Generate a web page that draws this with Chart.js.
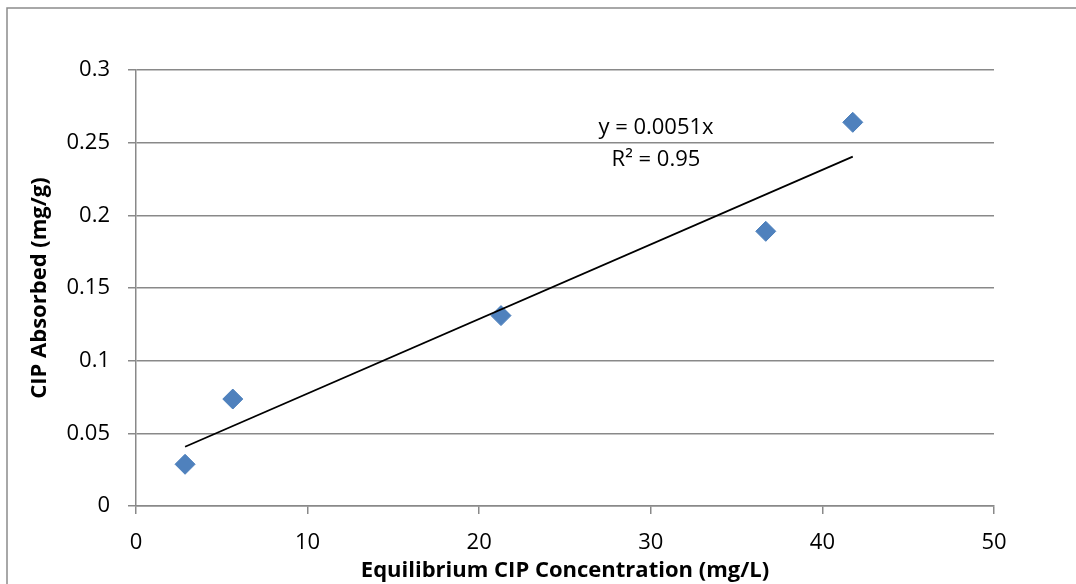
<!DOCTYPE html>
<html>
<head>
<meta charset="utf-8">
<script src="https://cdn.jsdelivr.net/npm/chart.js@4"></script>
<style>
  html, body { margin: 0; padding: 0; background: #fff; }
  #wrap { position: relative; width: 1076px; height: 584px; }
</style>
</head>
<body>
<div id="wrap"><canvas id="chart" width="1076" height="584"></canvas></div>
<script>
const concX = [2.86, 5.64, 21.27, 36.7, 41.77];
const absorbedY = [0.0287, 0.0736, 0.131, 0.189, 0.264];

// Trendline endpoints as drawn
const trendX = [2.86, 41.77];
const trendY = [0.0408, 0.2404];

const xTicks = [0, 10, 20, 30, 40, 50];
const yTicks = [0, 0.05, 0.1, 0.15, 0.2, 0.25, 0.3];

const equationLines = ['y = 0.0051x', 'R\u00B2 = 0.95'];

const FONT = '"Open Sans", "DejaVu Sans", sans-serif';
const GRID = '#898989';

// Outer frame + trendline label
const framePlugin = {
  id: 'frame',
  afterDraw(chart) {
    const ctx = chart.ctx;
    ctx.save();
    ctx.strokeStyle = '#8c8c8c';
    ctx.lineWidth = 1.5;
    ctx.beginPath();
    ctx.moveTo(7, 584);
    ctx.lineTo(7, 8);
    ctx.lineTo(1076, 8);
    ctx.stroke();

    ctx.fillStyle = '#000';
    ctx.font = '22px ' + FONT;
    ctx.textAlign = 'center';
    ctx.textBaseline = 'middle';
    ctx.fillText(equationLines[0], 656, 128);
    ctx.fillText(equationLines[1], 656, 160);
    ctx.restore();
  }
};

const ctx = document.getElementById('chart').getContext('2d');
new Chart(ctx, {
  type: 'scatter',
  data: {
    datasets: [
      {
        label: 'CIP Absorbed',
        data: concX.map((x, i) => ({ x: x, y: absorbedY[i] })),
        pointStyle: 'rectRot',
        pointRadius: 10,
        pointHoverRadius: 10,
        backgroundColor: '#4F81BD',
        borderColor: '#4A7EBB',
        borderWidth: 1,
        order: 2
      },
      {
        label: 'Linear',
        type: 'line',
        data: trendX.map((x, i) => ({ x: x, y: trendY[i] })),
        borderColor: '#000',
        borderWidth: 1.8,
        pointRadius: 0,
        fill: false,
        order: 1
      }
    ]
  },
  options: {
    responsive: false,
    animation: false,
    events: [],
    layout: { padding: { left: 0, top: 70, right: 82, bottom: 0 } },
    plugins: {
      legend: { display: false },
      tooltip: { enabled: false }
    },
    scales: {
      x: {
        type: 'linear',
        min: 0,
        max: 50,
        afterBuildTicks: s => { s.ticks = xTicks.map(v => ({ value: v })); },
        afterFit: s => { s.height = 78; },
        grid: {
          drawOnChartArea: false,
          drawTicks: true,
          tickLength: 8,
          color: GRID,
          lineWidth: 1.5
        },
        border: { display: true, color: GRID, width: 1.5 },
        ticks: {
          color: '#000',
          padding: 16,
          font: { family: FONT, size: 22 },
          callback: v => String(v)
        },
        title: {
          display: true,
          text: 'Equilibrium CIP Concentration (mg/L)',
          color: '#000',
          font: { family: FONT, size: 22, weight: 'bold' },
          padding: { top: 0, bottom: 0 }
        }
      },
      y: {
        type: 'linear',
        min: 0,
        max: 0.3,
        afterBuildTicks: s => { s.ticks = yTicks.map(v => ({ value: v })); },
        afterFit: s => { s.width = 136; },
        grid: {
          drawOnChartArea: true,
          drawTicks: true,
          tickLength: 8,
          color: GRID,
          lineWidth: 1.5
        },
        border: { display: true, color: GRID, width: 1.5 },
        ticks: {
          color: '#000',
          padding: 18,
          font: { family: FONT, size: 22 },
          callback: v => String(Math.round(v * 100) / 100)
        },
        title: {
          display: true,
          text: 'CIP Absorbed (mg/g)',
          color: '#000',
          font: { family: FONT, size: 22, weight: 'bold' },
          padding: { top: 27, bottom: 0 }
        }
      }
    }
  },
  plugins: [framePlugin]
});
</script>
</body>
</html>
